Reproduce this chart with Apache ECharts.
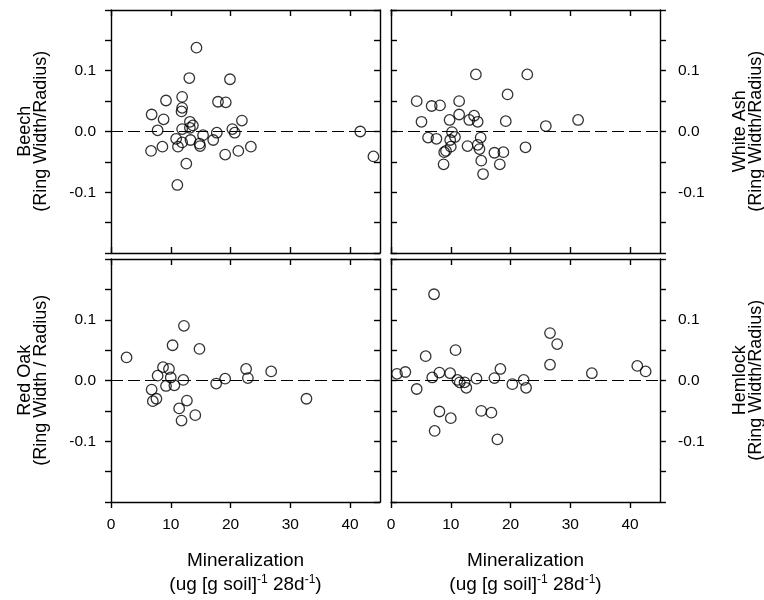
<!DOCTYPE html>
<html>
<head>
<meta charset="utf-8">
<script src="https://cdn.jsdelivr.net/npm/echarts@6/dist/echarts.min.js"></script>
<style>
html,body{margin:0;padding:0;background:#fff;}
#c{width:764px;height:600px;}
</style>
</head>
<body>
<div id="c"></div>
<script>
// ---- data (x: mineralization, y: ring width / radius) ----
const beech = [[14.3,0.138],[13.1,0.088],[19.9,0.086],[11.9,0.057],[9.2,0.051],[11.9,0.039],[11.8,0.033],[17.9,0.049],[19.2,0.048],[6.8,0.028],[8.8,0.020],[21.9,0.018],[13.2,0.016],[13.7,0.010],[7.8,0.002],[11.9,0.004],[13.2,0.006],[20.3,0.004],[20.7,-0.002],[17.7,-0.002],[15.4,-0.006],[10.9,-0.012],[17.1,-0.014],[13.3,-0.014],[11.9,-0.018],[14.8,-0.020],[14.9,-0.024],[11.2,-0.025],[8.6,-0.025],[6.7,-0.032],[21.3,-0.032],[23.4,-0.025],[19.1,-0.038],[12.6,-0.053],[11.1,-0.088],[41.7,0.0],[43.9,-0.041]];
const whiteAsh = [[14.2,0.094],[22.8,0.094],[19.5,0.061],[4.3,0.050],[6.8,0.042],[8.2,0.043],[11.4,0.050],[11.4,0.028],[13.9,0.026],[9.8,0.019],[13.1,0.019],[14.5,0.016],[5.1,0.016],[19.2,0.017],[31.3,0.019],[25.9,0.009],[10.2,-0.001],[10.7,-0.009],[6.2,-0.010],[7.6,-0.012],[9.9,-0.014],[15.0,-0.010],[12.8,-0.024],[14.5,-0.022],[10.0,-0.025],[14.8,-0.029],[22.5,-0.026],[9.2,-0.032],[8.9,-0.034],[17.3,-0.035],[18.8,-0.034],[15.1,-0.048],[8.8,-0.054],[18.2,-0.054],[15.4,-0.070]];
const redOak = [[2.6,0.038],[12.2,0.090],[10.3,0.058],[14.8,0.052],[8.7,0.022],[9.7,0.019],[7.8,0.008],[10.0,0.005],[12.1,0.001],[9.2,-0.009],[10.6,-0.008],[6.8,-0.015],[7.6,-0.030],[7.0,-0.034],[12.7,-0.033],[11.4,-0.046],[11.8,-0.066],[14.1,-0.057],[17.6,-0.005],[19.1,0.003],[22.6,0.019],[22.9,0.004],[26.8,0.015],[32.7,-0.030]];
const hemlock = [[7.2,0.142],[26.6,0.078],[27.8,0.060],[10.8,0.050],[5.8,0.040],[26.6,0.026],[41.2,0.024],[42.6,0.015],[33.6,0.012],[1.0,0.011],[2.4,0.014],[8.1,0.013],[9.9,0.012],[18.3,0.019],[6.9,0.005],[17.3,0.004],[14.3,0.003],[11.1,0.001],[11.5,-0.003],[12.3,-0.003],[22.2,0.001],[20.3,-0.006],[12.6,-0.012],[22.6,-0.012],[4.3,-0.014],[8.1,-0.051],[10.0,-0.062],[15.1,-0.050],[16.8,-0.053],[7.3,-0.083],[17.8,-0.097]];

const panelNames = ['Beech','White Ash','Red Oak','Hemlock'];
const panelUnits = ['(Ring Width/Radius)','(Ring Width/Radius)','(Ring Width / Radius)','(Ring Width/Radius)'];
const xRange = [0, 45];
const xStep = 10;
const xTicks = [0, 10, 20, 30, 40];
const yRange = [-0.2, 0.2];
const yStep = 0.1;
const refLine = 0;
const xTitle1 = 'Mineralization';
const xTitle2 = '(ug [g soil]{sup|-1} 28d{sup|-1})';

const FONT = '"Liberation Sans", Arial, Helvetica, sans-serif';
const TITLE_SIZE = 19;
const YTITLE_SIZE = 18;
const panels = [beech, whiteAsh, redOak, hemlock];

const grids = [
  {left:111, top:10, width:269, height:243},
  {left:391, top:10, width:269, height:243},
  {left:111, top:259, width:269, height:243},
  {left:391, top:259, width:269, height:243}
];
const lineStyle = {color:'#000', width:1.4};

const xAxes = [], yAxes = [], series = [];
grids.forEach((g, i) => {
  const isBottom = i >= 2;
  const isLeft = i % 2 === 0;
  xAxes.push({
    type:'value', gridIndex:i, position:'bottom', min:xRange[0], max:xRange[1], interval:xStep,
    axisLine:{show:true, onZero:false, lineStyle},
    axisTick:{show:true, inside:!isBottom, length:6, lineStyle, customValues:xTicks},
    axisLabel:{show:isBottom, margin:15, fontSize:15.5, color:'#000', fontFamily:FONT, customValues:xTicks},
    splitLine:{show:false}
  });
  xAxes.push({
    type:'value', gridIndex:i, position:'top', min:xRange[0], max:xRange[1], interval:xStep,
    axisLine:{show:true, onZero:false, lineStyle},
    axisTick:{show:true, inside:true, length:6, lineStyle, customValues:xTicks},
    axisLabel:{show:false}, splitLine:{show:false}
  });
  const mkY = (pos, labelled) => ({
    type:'value', gridIndex:i, position:pos, min:yRange[0], max:yRange[1], interval:yStep,
    axisLine:{show:true, onZero:false, lineStyle},
    axisTick:{show:true, inside:!labelled, length:6, lineStyle},
    minorTick:{show:true, splitNumber:2, length:6, lineStyle},
    axisLabel:{show:labelled, margin: pos==='left'?15:18, fontSize:15.5, color:'#000', fontFamily:FONT,
      showMinLabel:false, showMaxLabel:false, formatter:v => v.toFixed(1)},
    splitLine:{show:false}, minorSplitLine:{show:false}
  });
  yAxes.push(mkY(isLeft?'left':'right', true));
  yAxes.push(mkY(isLeft?'right':'left', false));
  series.push({
    type:'scatter', xAxisIndex:i*2, yAxisIndex:i*2, data:panels[i],
    symbol:'circle', symbolSize:10.5,
    itemStyle:{color:'rgba(255,255,255,0)', borderColor:'#000', borderWidth:1.3},
    markLine:{silent:true, symbol:'none', label:{show:false},
      lineStyle:{color:'#000', width:1.2, type:[12,5]},
      data:[{yAxis:refLine}]},
    z:3
  });
});

const graphic = [];
const yTitleLayout = [
  {x1:25, x2:41, y:131.3},
  {x1:740, x2:756, y:131.3},
  {x1:25, x2:41, y:380.3},
  {x1:740, x2:756, y:380.3}
];
yTitleLayout.forEach((p, i) => {
  graphic.push({type:'text', x:p.x1, y:p.y, rotation:Math.PI/2,
    style:{text:panelNames[i], fontSize:YTITLE_SIZE, fontFamily:FONT, fill:'#000', align:'center', verticalAlign:'middle'}});
  graphic.push({type:'text', x:p.x2, y:p.y, rotation:Math.PI/2,
    style:{text:panelUnits[i], fontSize:YTITLE_SIZE, fontFamily:FONT, fill:'#000', align:'center', verticalAlign:'middle'}});
});
[245.5, 525.5].forEach(cx => {
  graphic.push({type:'text', x:cx, y:561,
    style:{text:xTitle1, fontSize:TITLE_SIZE, fontFamily:FONT, fill:'#000', align:'center', verticalAlign:'middle'}});
  graphic.push({type:'text', x:cx, y:585,
    style:{text:xTitle2, fontSize:TITLE_SIZE, fontFamily:FONT, fill:'#000', align:'center', verticalAlign:'middle',
      rich:{sup:{fontSize:12, fontFamily:FONT, fill:'#000', padding:[0,0,10,0]}}}});
});

const chart = echarts.init(document.getElementById('c'), null, {renderer:'canvas'});
chart.setOption({
  animation:false,
  backgroundColor:'#fff',
  grid:grids,
  xAxis:xAxes,
  yAxis:yAxes,
  series:series,
  graphic:graphic
});
</script>
</body>
</html>
